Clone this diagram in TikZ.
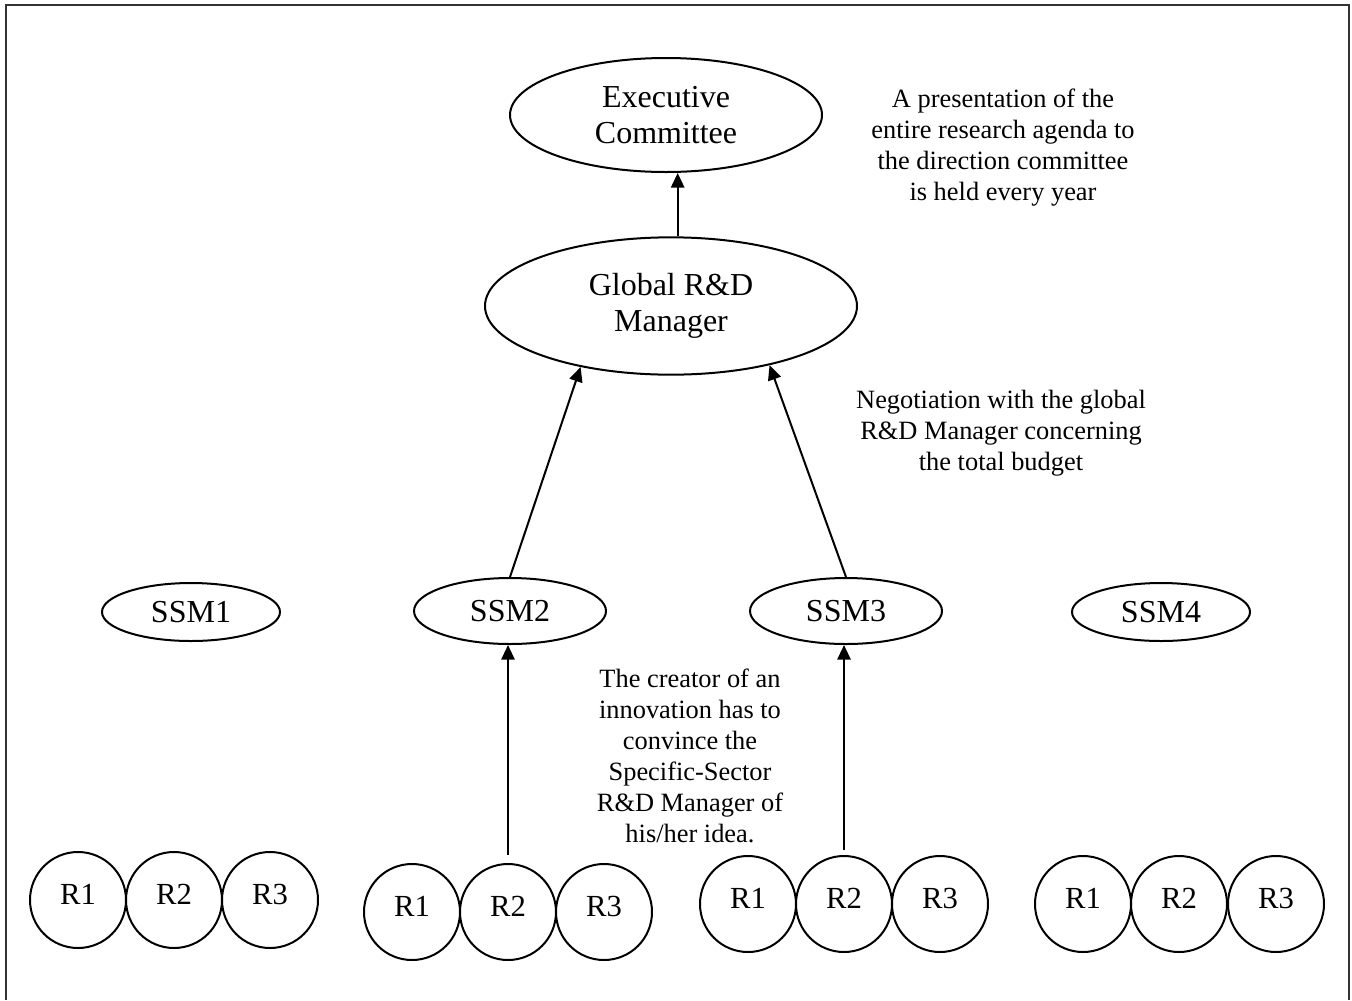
\documentclass[tikz,border=0pt]{standalone}
\usepackage{fontspec}
\setmainfont{Liberation Serif}
\usetikzlibrary{shapes.geometric,arrows.meta}

\tikzset{
  bigoval/.style={draw, ellipse, line width=1.5pt, inner sep=0pt, align=center,
    font=\fontsize{24}{27}\selectfont},
  ssmoval/.style={draw, ellipse, line width=1.5pt, inner sep=0pt,
    font=\fontsize{24}{27}\selectfont},
  rcircle/.style={draw, circle, line width=1.5pt, inner sep=0pt, minimum size=72pt,
    font=\fontsize{23}{26}\selectfont, text depth=9pt},
  note/.style={align=center, font=\fontsize{19.8}{23.25}\selectfont},
  arr/.style={-{Triangle[width=10pt,length=11pt]}, line width=1.5pt},
}

\begin{document}
\begin{tikzpicture}[x=0.75pt, y=-0.75pt]
    \useasboundingbox (0,0) rectangle (1352,1000);

    % Frame (open at the bottom)
    \draw[line width=1.6pt, black!80] (6,1000) -- (6,5) -- (1349,5) -- (1349,1000);

    % Top levels
    \node[bigoval, minimum width=234pt, minimum height=85.5pt] (exec) at (666,115) {Executive\\Committee};
    \node[bigoval, minimum width=279pt, minimum height=103pt] (glob) at (671,306) {Global R\&D\\Manager};

    % Specific-Sector Managers
    \node[ssmoval, minimum width=133.5pt, minimum height=43.5pt] (ssm1) at (191,612) {SSM1};
    \node[ssmoval, minimum width=144pt, minimum height=49.5pt] (ssm2) at (510,611) {SSM2};
    \node[ssmoval, minimum width=144pt, minimum height=49.5pt] (ssm3) at (846,611) {SSM3};
    \node[ssmoval, minimum width=133.5pt, minimum height=43.5pt] (ssm4) at (1161,612) {SSM4};

    % Researchers - group 1
    \node[rcircle] (r11) at (78,900) {R1};
    \node[rcircle] (r12) at (174,900) {R2};
    \node[rcircle] (r13) at (270,900) {R3};

    % Researchers - group 2
    \node[rcircle] (r21) at (412,912) {R1};
    \node[rcircle] (r22) at (508,912) {R2};
    \node[rcircle] (r23) at (604,912) {R3};

    % Researchers - group 3
    \node[rcircle] (r31) at (748,904) {R1};
    \node[rcircle] (r32) at (844,904) {R2};
    \node[rcircle] (r33) at (940,904) {R3};

    % Researchers - group 4
    \node[rcircle] (r41) at (1083,904) {R1};
    \node[rcircle] (r42) at (1179,904) {R2};
    \node[rcircle] (r43) at (1276,904) {R3};

    % Notes
    \node[note] (presnote) at (1003,148) {A presentation of the\\entire research agenda to\\the direction committee\\is held every year};
    \node[note] (negnote) at (1001,433) {Negotiation with the global\\R\&D Manager concerning\\the total budget};
    \node[note] (creatnote) at (690,756) {The creator of an\\innovation has to\\convince the\\Specific-Sector\\R\&D Manager of\\his/her idea.};

    % Arrows
    \draw[arr] ([xshift=5pt]glob.north) -- ([xshift=5pt]glob.north |- exec.south);
    \draw[arr] (ssm2.north) -- (glob.214);
    \draw[arr] (ssm3.north) -- (glob.329);
    \draw[arr, shorten <=6pt] (r22.north) -- (r22.north |- ssm2.south);
    \draw[arr, shorten <=4pt] (r32.north) -- (r32.north |- ssm3.south);
\end{tikzpicture}
\end{document}
